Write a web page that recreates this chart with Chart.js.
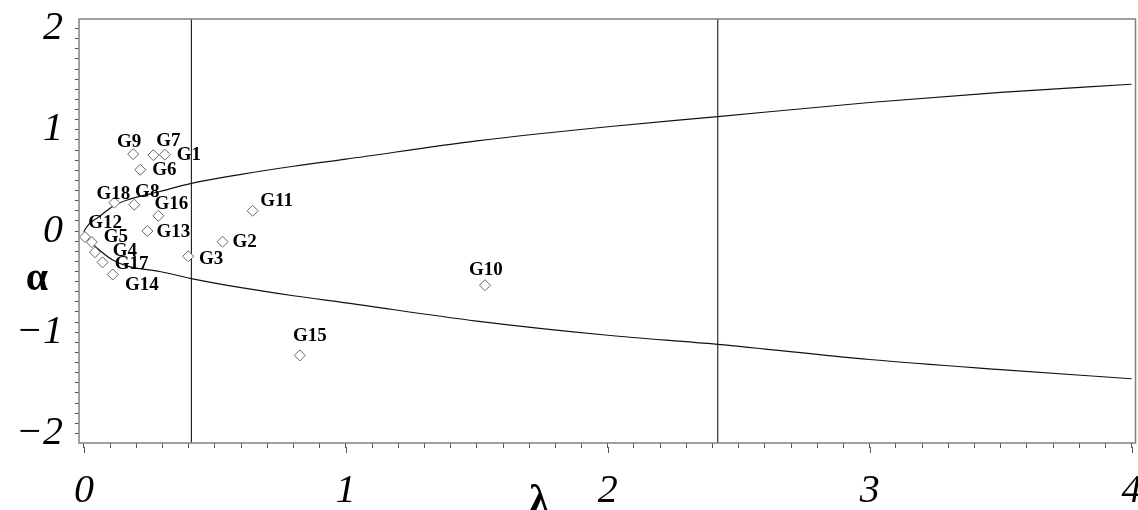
<!DOCTYPE html>
<html>
<head>
<meta charset="utf-8">
<script src="https://cdn.jsdelivr.net/npm/chart.js@4.4.1/dist/chart.umd.min.js"></script>
<style>
  html, body { margin: 0; padding: 0; background: #fff; overflow: hidden; }
  #wrap { width: 1142px; height: 510px; }
</style>
</head>
<body>
<div id="wrap"><canvas id="plot"></canvas></div>
<script>
// Groupes G1..G18 : position (λ, α)
const groupNames = ['G1', 'G2', 'G3', 'G4', 'G5', 'G6', 'G7', 'G8', 'G9',
    'G10', 'G11', 'G12', 'G13', 'G14', 'G15', 'G16', 'G17', 'G18'];
const groupLambda = [0.309, 0.529, 0.398, 0.042, 0.030, 0.215, 0.265, 0.192, 0.188,
    1.531, 0.644, 0.004, 0.242, 0.110, 0.824, 0.284, 0.071, 0.116];
const groupAlpha = [0.754, -0.106, -0.250, -0.210, -0.110, 0.605, 0.750, 0.260, 0.760,
    -0.536, 0.200, -0.060, 0.000, -0.430, -1.230, 0.150, -0.310, 0.280];

// Courbes limites (lues point par point)
const curveLambda = [0, 0.02, 0.055, 0.112, 0.169, 0.29, 0.41, 0.6, 0.8, 1.0, 1.5, 2.0, 2.42, 3.0, 3.5, 4.0];
const upperAlpha = [0, 0.07, 0.136, 0.248, 0.31, 0.39, 0.47, 0.56, 0.64, 0.71, 0.89, 1.03, 1.13, 1.27, 1.37, 1.45];
const lowerAlpha = [0, -0.09, -0.18, -0.29, -0.35, -0.40, -0.47, -0.56, -0.64, -0.71, -0.89, -1.03, -1.12, -1.27, -1.37, -1.46];

// Seuils verticaux
const cutoffLambda = [0.41, 2.42];

// Ticks
const xMajorTicks = [0, 1, 2, 3, 4];
const yMajorTicks = [-2, -1, 0, 1, 2];

// Placement des étiquettes (décalage en px par rapport au point)
const labelOffsets = [
    [24, 0], [22, 0], [23, 3], [30, -1], [24, -5], [24, 0], [15, -14], [13, -13], [-4, -12],
    [1, -15], [24, -10], [20, -14], [26, 1], [29, 11], [10, -19], [13, -12], [29, 2], [-1, -9],
];

const SERIF = '"Liberation Serif", "DejaVu Serif", serif';
const isMajor = (v, list) => list.some(m => Math.abs(v - m) < 1e-6);
const fmt = v => (v < 0 ? '\u2212' + Math.abs(v) : String(v));

const frameAndLabels = {
    id: 'frameAndLabels',
    afterDatasetsDraw(chart) {
        const { ctx, chartArea: a, scales: { x, y } } = chart;
        ctx.save();

        // cadre
        ctx.strokeStyle = '#808080';
        ctx.lineWidth = 1.5;
        ctx.strokeRect(a.left, a.top, a.right - a.left, a.bottom - a.top);

        // ticks majeurs plus longs sur λ
        ctx.lineWidth = 1;
        ctx.strokeStyle = '#555';
        xMajorTicks.forEach(v => {
            const px = Math.round(x.getPixelForValue(v)) + 0.5;
            ctx.beginPath();
            ctx.moveTo(px, a.bottom + 4);
            ctx.lineTo(px, a.bottom + 10);
            ctx.stroke();
        });

        // étiquettes des groupes
        ctx.fillStyle = '#000';
        ctx.font = 'bold 19px ' + SERIF;
        ctx.textAlign = 'center';
        ctx.textBaseline = 'middle';
        groupNames.forEach((name, i) => {
            const [dx, dy] = labelOffsets[i];
            ctx.fillText(name, x.getPixelForValue(groupLambda[i]) + dx, y.getPixelForValue(groupAlpha[i]) + dy);
        });

        // titres des axes
        ctx.font = 'bold 40px ' + SERIF;
        ctx.textBaseline = 'alphabetic';
        ctx.fillText('λ', 539, 512);
        ctx.fillText('α', 37, 290);
        ctx.restore();
    },
};

const ctx = document.getElementById('plot');
new Chart(ctx, {
    type: 'scatter',
    data: {
        datasets: [
            {
                label: 'groupes',
                data: groupLambda.map((l, i) => ({ x: l, y: groupAlpha[i] })),
                pointStyle: 'rectRot',
                pointRadius: 5.5,
                pointBorderColor: '#666',
                pointBackgroundColor: '#fff',
                pointBorderWidth: 1,
                order: 0,
            },
            {
                label: 'limite haute',
                type: 'line',
                data: curveLambda.map((l, i) => ({ x: l, y: upperAlpha[i] })),
                borderColor: '#111',
                borderWidth: 1.2,
                pointRadius: 0,
                cubicInterpolationMode: 'monotone',
                fill: false,
                order: 1,
            },
            {
                label: 'limite basse',
                type: 'line',
                data: curveLambda.map((l, i) => ({ x: l, y: lowerAlpha[i] })),
                borderColor: '#111',
                borderWidth: 1.2,
                pointRadius: 0,
                cubicInterpolationMode: 'monotone',
                fill: false,
                order: 1,
            },
            ...cutoffLambda.map(c => ({
                label: 'seuil ' + c,
                type: 'line',
                data: [{ x: c, y: -2.2 }, { x: c, y: 2.2 }],
                borderColor: '#000',
                borderWidth: 1,
                pointRadius: 0,
                fill: false,
                order: 2,
            })),
        ],
    },
    options: {
        responsive: true,
        maintainAspectRatio: false,
        animation: false,
        layout: { padding: { top: 19, right: 0, left: 0, bottom: 0 } },
        plugins: {
            legend: { display: false },
            tooltip: { enabled: false },
        },
        scales: {
            x: {
                type: 'linear',
                min: -0.019,
                max: 4.015,
                border: { display: false },
                grid: { drawOnChartArea: false, drawTicks: true, tickLength: 5, color: '#555' },
                ticks: {
                    stepSize: 0.1,
                    includeBounds: false,
                    autoSkip: false,
                    maxRotation: 0,
                    padding: 19,
                    color: '#000',
                    font: { family: SERIF, size: 40, style: 'italic' },
                    callback: v => (isMajor(v, xMajorTicks) ? fmt(Math.round(v)) : ''),
                },
                afterFit: s => { s.height = 67; s.paddingLeft = 0; s.paddingRight = 0; },
            },
            y: {
                type: 'linear',
                min: -2.095,
                max: 2.095,
                border: { display: false },
                grid: { drawOnChartArea: false, drawTicks: true, tickLength: 4, color: '#555' },
                ticks: {
                    stepSize: 0.1,
                    includeBounds: false,
                    autoSkip: false,
                    padding: 12,
                    color: '#000',
                    font: { family: SERIF, size: 40, style: 'italic' },
                    callback: v => (isMajor(v, yMajorTicks) ? fmt(Math.round(v)) : ''),
                },
                afterFit: s => { s.width = 79; s.paddingTop = 0; s.paddingBottom = 0; },
            },
        },
    },
    plugins: [frameAndLabels],
});
</script>
</body>
</html>
